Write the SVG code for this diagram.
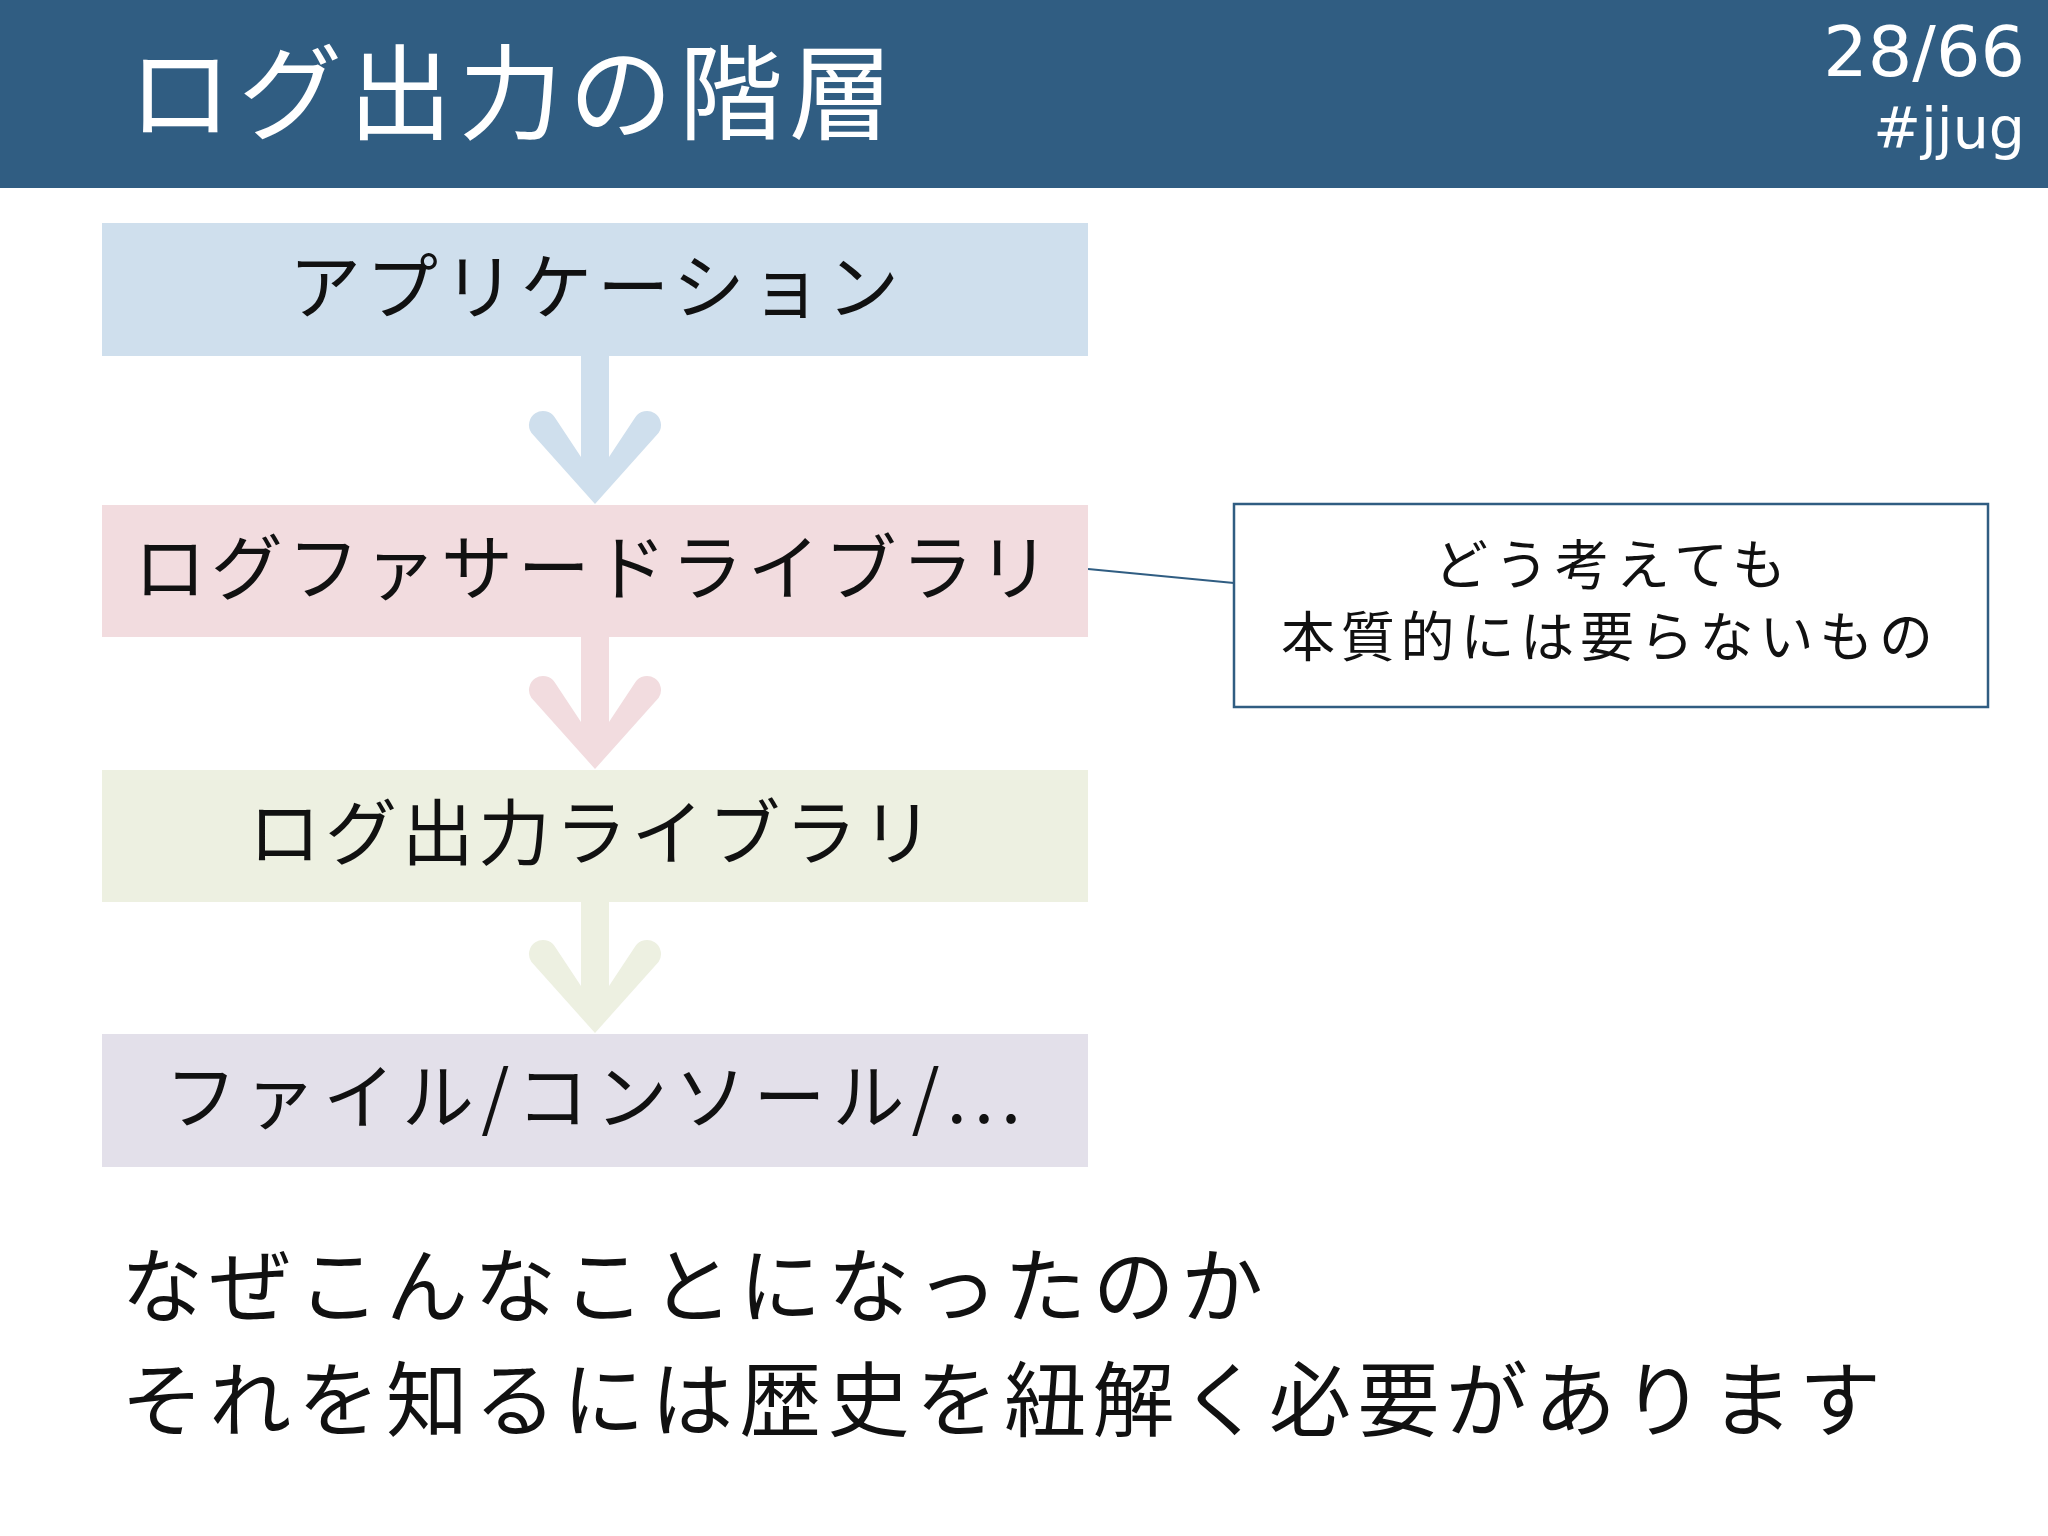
<svg xmlns="http://www.w3.org/2000/svg" width="2048" height="1536" viewBox="0 0 2048 1536">
<style>
.jp{font-family:"Noto Sans CJK JP","Noto Sans",sans-serif;fill:#111;}
.box-t{font-size:72px;}
.side-t{font-size:54px;}
.body-t{font-size:82px;}
.num{font-family:"DejaVu Sans","Noto Sans",sans-serif;fill:#fff;}
</style>
<rect x="0" y="0" width="2048" height="1536" fill="#ffffff"/>
<g id="header">
<rect x="0" y="0" width="2048" height="188" fill="#305d82"/>
<text class="jp" x="128" y="132" font-size="104" textLength="765" lengthAdjust="spacing" style="fill:#fff">ログ出力の階層</text>
<text class="num" x="2025" y="76" font-size="70" text-anchor="end">28/66</text>
<text class="num" x="2025" y="148" font-size="57" text-anchor="end">#jjug</text>
</g>
<g id="connectors">
<path fill="#cfdfed" d="M581 356 L609 356 L609 457 L635.3 417.3 A14 14 0 0 1 658.7 432.7 L595 504 L531.3 432.7 A14 14 0 0 1 554.7 417.3 L581 457 Z"/>
<path fill="#f2dcdf" d="M581 637 L609 637 L609 722 L635.3 682.3 A14 14 0 0 1 658.7 697.7 L595 769 L531.3 697.7 A14 14 0 0 1 554.7 682.3 L581 722 Z"/>
<path fill="#edf0e1" d="M581 902 L609 902 L609 986 L635.3 946.3 A14 14 0 0 1 658.7 961.7 L595 1033 L531.3 961.7 A14 14 0 0 1 554.7 946.3 L581 986 Z"/>
<line x1="1088" y1="569" x2="1234" y2="583" stroke="#305d82" stroke-width="2"/>
</g>
<g id="node-app">
<rect x="102" y="223" width="986" height="133" fill="#cfdfed"/>
<text class="jp box-t" x="594" y="313" text-anchor="middle" textLength="610" lengthAdjust="spacing">アプリケーション</text>
</g>
<g id="node-facade">
<rect x="102" y="505" width="986" height="132" fill="#f2dcdf"/>
<text class="jp box-t" x="592" y="594" text-anchor="middle" textLength="916" lengthAdjust="spacing">ログファサードライブラリ</text>
</g>
<g id="node-logger">
<rect x="102" y="770" width="986" height="132" fill="#edf0e1"/>
<text class="jp box-t" x="591" y="859" text-anchor="middle" textLength="685" lengthAdjust="spacing">ログ出力ライブラリ</text>
</g>
<g id="node-output">
<rect x="102" y="1034" width="986" height="133" fill="#e3e0ea"/>
<text class="jp box-t" x="593" y="1123" text-anchor="middle" textLength="856" lengthAdjust="spacing">ファイル/コンソール/...</text>
</g>
<g id="node-note">
<rect x="1234" y="504" width="754" height="203" fill="#ffffff" stroke="#305d82" stroke-width="2.5"/>
<text class="jp side-t" x="1610" y="585" text-anchor="middle" textLength="352" lengthAdjust="spacing">どう考えても</text>
<text class="jp side-t" x="1607" y="657" text-anchor="middle" textLength="652" lengthAdjust="spacing">本質的には要らないもの</text>
</g>
<g id="body-text">
<text class="jp body-t" x="121" y="1316" textLength="1142" lengthAdjust="spacing">なぜこんなことになったのか</text>
<text class="jp body-t" x="121" y="1430" textLength="1760" lengthAdjust="spacing">それを知るには歴史を紐解く必要があります</text>
</g>
</svg>
